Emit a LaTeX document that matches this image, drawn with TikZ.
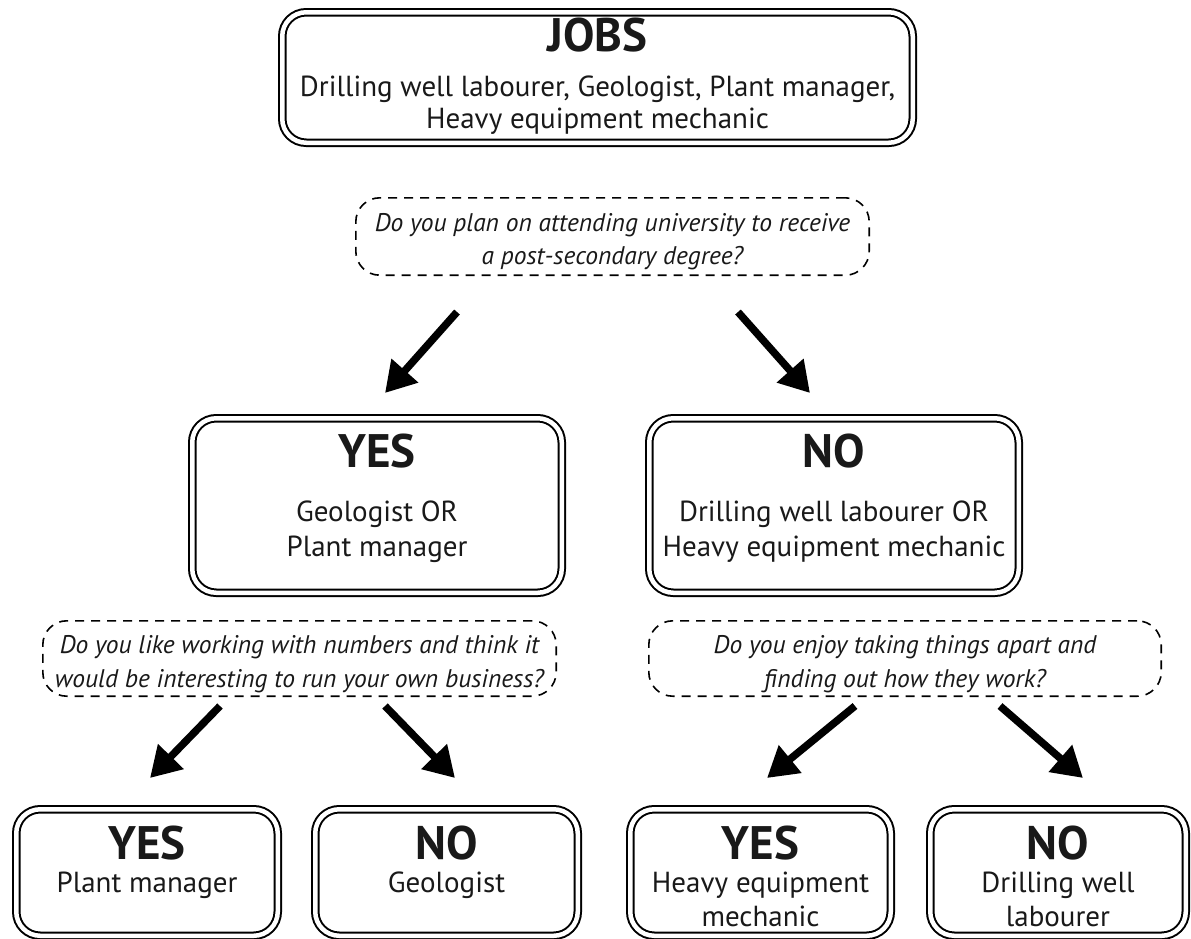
\documentclass[tikz,border=0pt]{standalone}
\usepackage{fontspec}
\setmainfont{PT Sans}
\usetikzlibrary{arrows.meta}
\newcommand{\hdf}{\fontsize{47}{50}\selectfont\bfseries}
\newcommand{\bdf}{\fontsize{29}{33}\selectfont}
\newcommand{\qf}{\fontsize{25.5}{30}\selectfont\itshape}
\tikzset{
  dbox/.style={draw, line width=2pt, double=white, double distance=4.5pt, rounded corners=24pt, inner sep=0pt},
  qbox/.style={draw, line width=1.6pt, dash pattern=on 9pt off 7pt, rounded corners=24pt, inner sep=0pt},
  bigarrow/.style={line width=7.5pt, -{Triangle[length=30pt,width=34pt]}},
  hd/.style={anchor=base, inner sep=0pt, font=\hdf, text=black!90},
  bd/.style={anchor=base, inner sep=0pt, font=\bdf, text=black!90},
  qt/.style={anchor=base, inner sep=0pt, font=\qf, text=black!90},
}
\newcommand{\dboxat}[5]{% name, x1, y1, x2, y2
  \node[dbox, minimum width={#4-#2-8.5}, minimum height={#5-#3-8.5}] (#1) at ({(#2+#4)/2},{(#3+#5)/2}) {};}
\newcommand{\qboxat}[5]{%
  \node[qbox, minimum width={#4-#2-1.6}, minimum height={#5-#3-1.6}] (#1) at ({(#2+#4)/2},{(#3+#5)/2}) {};}
\begin{document}
\begin{tikzpicture}[x=1pt,y=-1pt]
\useasboundingbox (0,0) rectangle (1191,938);
% boxes
\dboxat{top}{278}{8}{917}{147}
\qboxat{q1}{355}{197}{870}{276}
\dboxat{yesA}{188}{414}{566}{597}
\dboxat{noA}{645}{414}{1023}{597}
\qboxat{q2}{42}{620}{557}{697}
\qboxat{q3}{648}{620}{1162}{697}
\dboxat{b1}{12}{805}{282}{940}
\dboxat{b2}{311}{805}{582}{940}
\dboxat{b3}{626}{805}{895}{940}
\dboxat{b4}{926}{805}{1190}{940}
% texts
\node[hd] (tJ) at (597.5,51) {JOBS};
\node[bd] (tJ1) at (597.5,96) {Drilling well labourer, Geologist, Plant manager,};
\node[bd] (tJ2) at (597.5,128) {Heavy equipment mechanic};
\node[qt] (tq1a) at (612.5,231) {Do you plan on attending university to receive};
\node[qt] (tq1b) at (612.5,264) {a post-secondary degree?};
\node[hd] (tyA) at (377,467) {YES};
\node[bd] (tyA1) at (377,521) {Geologist OR};
\node[bd] (tyA2) at (377,556) {Plant manager};
\node[hd] (tnA) at (834,467) {NO};
\node[bd] (tnA1) at (834,521) {Drilling well labourer OR};
\node[bd] (tnA2) at (834,556) {Heavy equipment mechanic};
\node[qt] (tq2a) at (299.5,653) {Do you like working with numbers and think it};
\node[qt] (tq2b) at (299.5,687) {would be interesting to run your own business?};
\node[qt] (tq3a) at (905,653) {Do you enjoy taking things apart and};
\node[qt] (tq3b) at (905,687) {finding out how they work?};
\node[hd] (tb1) at (147,859) {YES};
\node[bd] (tb1a) at (147,892) {Plant manager};
\node[hd] (tb2) at (446.5,859) {NO};
\node[bd] (tb2a) at (446.5,892) {Geologist};
\node[hd] (tb3) at (760.5,859) {YES};
\node[bd] (tb3a) at (760.5,892) {Heavy equipment};
\node[bd] (tb3b) at (760.5,926) {mechanic};
\node[hd] (tb4) at (1058,859) {NO};
\node[bd] (tb4a) at (1058,892) {Drilling well};
\node[bd] (tb4b) at (1058,926) {labourer};
% arrow coordinates
\coordinate (a1s) at (457,312); \coordinate (a1e) at (385,393);
\coordinate (a2s) at (738,312); \coordinate (a2e) at (810,393);
\coordinate (a3s) at (220,706); \coordinate (a3e) at (150,778);
\coordinate (a4s) at (385,706); \coordinate (a4e) at (455,778);
\coordinate (a5s) at (855,706); \coordinate (a5e) at (767,778);
\coordinate (a6s) at (1000,706); \coordinate (a6e) at (1083,778);
\foreach \i in {1,...,6} \draw[bigarrow] (a\i s) -- (a\i e);
\end{tikzpicture}
\end{document}
